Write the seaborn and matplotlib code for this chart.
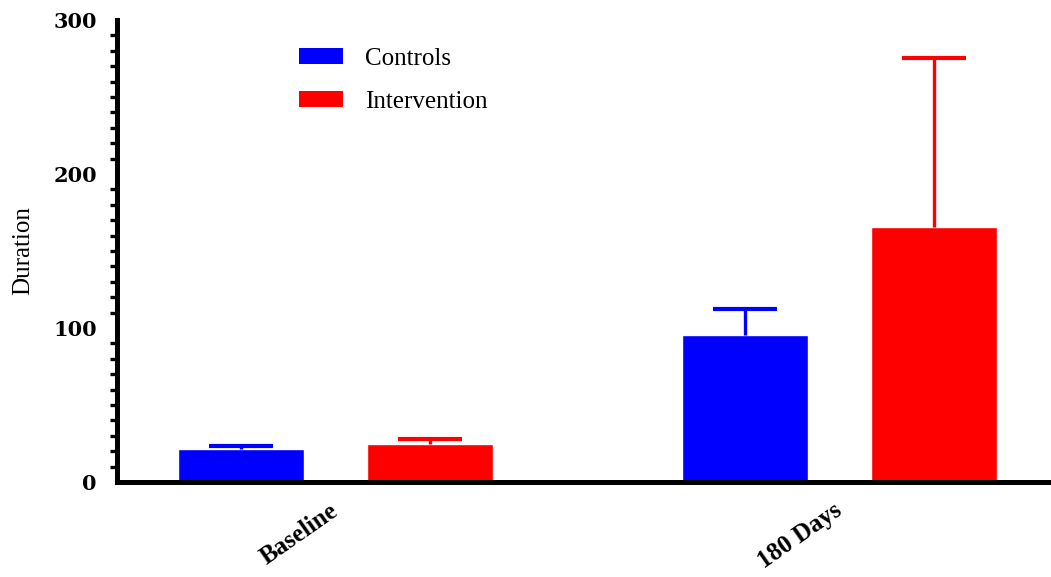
import matplotlib
matplotlib.use("Agg")
import matplotlib.pyplot as plt
from matplotlib.ticker import MultipleLocator
from matplotlib.patches import Patch
import seaborn as sns
import pandas as pd

# Group means and upper error (SEM) for each time point
time_points = ["Baseline", "180 Days"]
groups = ["Controls", "Intervention"]
controls_mean = [21.5, 95.5]
controls_err = [2.0, 17.0]
intervention_mean = [24.8, 165.5]
intervention_err = [3.2, 110.0]
y_ticks = [0, 100, 200, 300]

colors = {"Controls": "#0000FF", "Intervention": "#FF0000"}

df = pd.DataFrame({
    "Time": time_points * 2,
    "Group": ["Controls"] * 2 + ["Intervention"] * 2,
    "Duration": controls_mean + intervention_mean,
})
errors = {"Controls": controls_err, "Intervention": intervention_err}

sns.set_style("white")
serif = ["Liberation Serif", "DejaVu Serif"]

fig = plt.figure(figsize=(10.51, 5.77), dpi=100)
ax = fig.add_axes([0.1113, 0.1646, 1 - 0.1113, 0.9653 - 0.1646])

sns.barplot(data=df, x="Time", y="Duration", hue="Group",
            order=time_points, hue_order=groups, palette=colors,
            width=0.75, gap=0.333, errorbar=None, saturation=1,
            legend=False, ax=ax)

# upper-only error bars centred on each bar
for grp, cont in zip(groups, ax.containers):
    for bar, err in zip(cont, errors[grp]):
        xc = bar.get_x() + bar.get_width() / 2
        h = bar.get_height()
        _, caps, _ = ax.errorbar(xc, h, yerr=[[0], [err]], fmt="none",
                                 ecolor=colors[grp], elinewidth=2.4,
                                 capsize=22.7, capthick=3.0, zorder=1)
        caps[0].set_visible(False)

ax.set_ylim(0, 300)
ax.set_xlim(-0.4345, 1.419)
ax.set_yticks(y_ticks)
ax.yaxis.set_minor_locator(MultipleLocator(10))

for side in ["top", "right"]:
    ax.spines[side].set_visible(False)
for side in ["left", "bottom"]:
    ax.spines[side].set_linewidth(3.6)
    ax.spines[side].set_color("black")

ax.tick_params(axis="y", which="major", direction="out", length=9.5,
               width=2.6, color="black", pad=5, labelcolor="black")
ax.tick_params(axis="y", which="minor", direction="out", length=4.7,
               width=2.4, color="black", left=True)
ax.tick_params(axis="x", length=0, pad=19, labelcolor="black")

for lbl in ax.get_yticklabels():
    lbl.set_fontfamily("DejaVu Serif")
    lbl.set_fontweight("bold")
    lbl.set_fontsize(15)

for lbl in ax.get_xticklabels():
    lbl.set_fontfamily(serif)
    lbl.set_fontweight("bold")
    lbl.set_fontsize(18)
    lbl.set_rotation(35)
    lbl.set_rotation_mode("anchor")
    lbl.set_ha("right")
    lbl.set_va("center")

ax.set_xlabel("")
ax.set_ylabel("Duration", fontfamily=serif, fontsize=18, labelpad=14,
              color="black")

handles = [Patch(facecolor=colors[g], edgecolor="none", label=g) for g in groups]
ax.legend(handles=handles, loc="upper left", bbox_to_anchor=(0.195, 0.94),
          frameon=False, borderpad=0, borderaxespad=0,
          handlelength=1.75, handleheight=0.6, handletextpad=0.9,
          labelspacing=0.85, labelcolor="black",
          prop={"family": serif, "size": 18})

fig.savefig("out.png", dpi=100)
